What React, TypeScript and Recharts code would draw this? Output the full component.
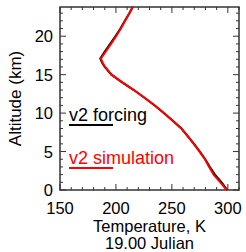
import { ScatterChart, Scatter, XAxis, YAxis, Label, ReferenceArea } from 'recharts'

// altitude (km) and temperature profiles (K)
const altitude = [0, 1, 2, 3, 4, 5, 6, 7, 8, 9, 10, 11, 12, 13, 14, 15, 16, 16.5, 17.1, 18, 19, 20, 21, 22, 23, 23.8]
const forcingTemp = [299.5, 294.5, 288.5, 284, 279.8, 275, 269.8, 264.2, 258.5, 250.8, 242.8, 234.7, 225.5, 216, 205.6, 196, 190, 187.8, 186, 190, 194.8, 199.5, 204, 208, 212, 215]
const simulationTemp = [299, 293.3, 287.3, 283.3, 279.5, 274.7, 269.5, 264, 258.5, 250.8, 242.8, 234.7, 225.5, 216, 205.6, 196, 190.3, 188.3, 186.6, 190.8, 195.6, 200.2, 204.4, 208.2, 212, 215]

const xTicks = [150, 160, 170, 180, 190, 200, 210, 220, 230, 240, 250, 260, 270, 280, 290, 300, 310]
const xLabels = [150, 200, 250, 300]
const yTicks = [0, 1, 2, 3, 4, 5, 6, 7, 8, 9, 10, 11, 12, 13, 14, 15, 16, 17, 18, 19, 20, 21, 22, 23]
const yLabels = [0, 5, 10, 15, 20]

const forcing = altitude.map((a, i) => ({ alt: a, temp: forcingTemp[i] }))
const simulation = altitude.map((a, i) => ({ alt: a, temp: simulationTemp[i] }))

const FONT = '"Liberation Sans", Arial, sans-serif'
const FRAME = '#333'
const W = 246
const H = 252
const MARGIN = { top: 7, right: 7, left: 0, bottom: 0 }
const PLOT_TOP = MARGIN.top
const PLOT_BOTTOM = H - 62
const PLOT_LEFT = 60
const PLOT_RIGHT = W - MARGIN.right

const NoDot = () => <g />

// IDL style: ticks point inwards and are mirrored on the opposite side
const BottomTick = (props: any) => {
  const { x, payload } = props
  const len = xLabels.includes(payload.value) ? 6 : 3
  return (
    <g>
      <path d={`M${x},${PLOT_BOTTOM}V${PLOT_BOTTOM - len}M${x},${PLOT_TOP}V${PLOT_TOP + len}`} stroke={FRAME} strokeWidth={1} fill="none" />
      {len === 6 && (
        <text x={x} y={PLOT_BOTTOM + 23.5} textAnchor="middle" fontSize={16.5} fontFamily={FONT} fill="#000">
          {payload.value}
        </text>
      )}
    </g>
  )
}

const LeftTick = (props: any) => {
  const { y, payload } = props
  const len = yLabels.includes(payload.value) ? 6 : 3
  return (
    <g>
      <path d={`M${PLOT_LEFT},${y}H${PLOT_LEFT + len}M${PLOT_RIGHT},${y}H${PLOT_RIGHT - len}`} stroke={FRAME} strokeWidth={1} fill="none" />
      {len === 6 && (
        <text x={PLOT_LEFT - 7} y={y + 6} textAnchor="end" fontSize={16.5} fontFamily={FONT} fill="#000">
          {payload.value}
        </text>
      )}
    </g>
  )
}

const XTitle = (props: any) => {
  const { x, y, width } = props.viewBox
  const cx = x + width / 2
  return (
    <g fontSize={16.5} fontFamily={FONT} fill="#000" textAnchor="middle">
      <text x={cx} y={y + 42}>Temperature, K</text>
      <text x={cx} y={y + 59}>19.00 Julian</text>
    </g>
  )
}

const YTitle = (props: any) => {
  const { y, height } = props.viewBox
  const cy = y + height / 2
  return (
    <text x={21} y={cy} transform={`rotate(-90 21 ${cy})`} textAnchor="middle" fontSize={17} fontFamily={FONT} fill="#000">
      Altitude (km)
    </text>
  )
}

export default function App() {
  return (
    <div style={{ position: 'absolute', left: 0, top: 0, width: W, height: H }}>
      <ScatterChart width={W} height={H} margin={MARGIN}>
        <XAxis
          xAxisId="b"
          type="number"
          dataKey="temp"
          domain={[150, 310]}
          ticks={xTicks}
          interval={0}
          height={62}
          tickSize={0}
          tickMargin={0}
          tickLine={false}
          axisLine={false}
          tick={<BottomTick />}
        >
          <Label content={<XTitle />} />
        </XAxis>
        <YAxis
          yAxisId="l"
          type="number"
          dataKey="alt"
          domain={[0, 23.8]}
          ticks={yTicks}
          interval={0}
          width={60}
          tickSize={0}
          tickMargin={0}
          tickLine={false}
          axisLine={false}
          tick={<LeftTick />}
        >
          <Label content={<YTitle />} />
        </YAxis>
        <ReferenceArea
          xAxisId="b"
          yAxisId="l"
          x1={150}
          x2={310}
          y1={0}
          y2={23.8}
          fill="none"
          fillOpacity={0}
          stroke={FRAME}
          strokeWidth={1.5}
          strokeOpacity={1}
        />
        <Scatter
          xAxisId="b"
          yAxisId="l"
          data={forcing}
          line={{ stroke: '#000', strokeWidth: 2 }}
          lineType="joint"
          shape={<NoDot />}
          isAnimationActive={false}
        />
        <Scatter
          xAxisId="b"
          yAxisId="l"
          data={simulation}
          line={{ stroke: '#ff0000', strokeWidth: 2 }}
          lineType="joint"
          shape={<NoDot />}
          isAnimationActive={false}
        />
      </ScatterChart>
      <svg width={W} height={H} style={{ position: 'absolute', left: 0, top: 0, pointerEvents: 'none' }}>
        <g fontSize={18} fontFamily={FONT}>
          <text x={69} y={121} fill="#000">v2 forcing</text>
          <line x1={69} x2={113} y1={125} y2={125} stroke="#000" strokeWidth={2} />
          <text x={69} y={164} fill="#ff0000">v2 simulation</text>
          <line x1={69} x2={113} y1={168} y2={168} stroke="#ff0000" strokeWidth={2} />
        </g>
      </svg>
    </div>
  )
}
